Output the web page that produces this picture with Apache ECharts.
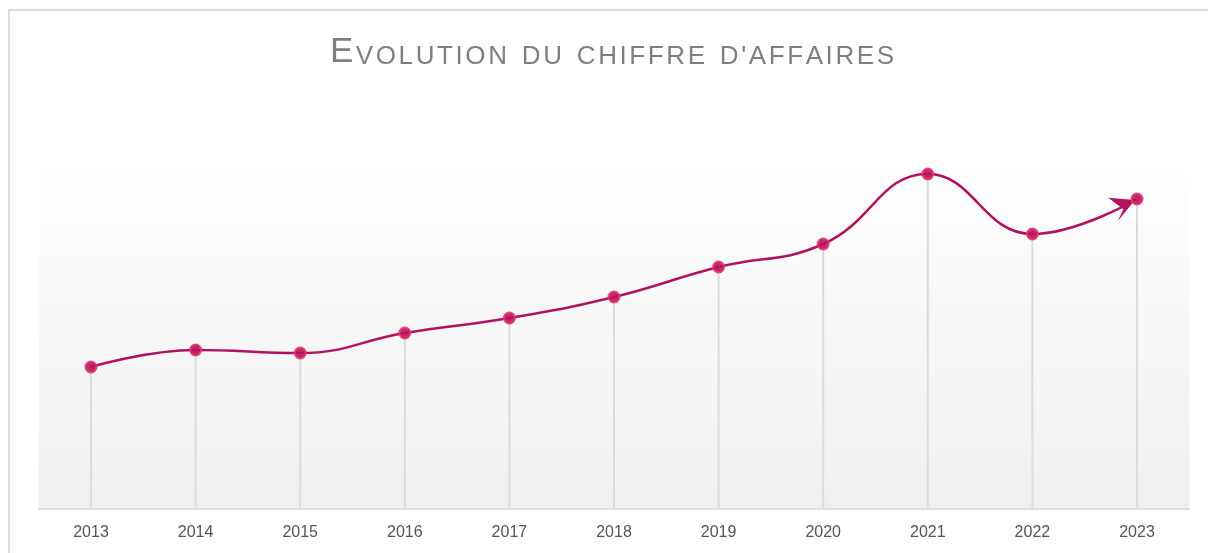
<!DOCTYPE html>
<html>
<head>
<meta charset="utf-8">
<script src="https://cdn.jsdelivr.net/npm/echarts@6/dist/echarts.min.js"></script>
<style>
  html, body { margin: 0; padding: 0; background: #fff; }
  #frame {
    position: absolute; left: 8px; top: 9px; width: 1220px; height: 600px;
    border-left: 2px solid #dcdcdc; border-top: 2px solid #dcdcdc;
  }
  #chart { position: absolute; left: 0; top: 0; width: 1208px; height: 553px; }
</style>
</head>
<body>
<div id="frame"></div>
<div id="chart"></div>
<script>
// years on the x axis
const years = ['2013', '2014', '2015', '2016', '2017', '2018', '2019', '2020', '2021', '2022', '2023'];
// turnover (arbitrary units)
const turnover = [142, 159, 156, 176, 191, 212, 242, 265, 335, 275, 310];
const yMax = 354;
const titleText = "Evolution du chiffre d'affaires";

const chart = echarts.init(document.getElementById('chart'));

const lineColor = '#b0125f';
// arrow head, tip at (0,0), pointing up-right
const arrowPath = 'path://M0,0 L-26.7,-2.3 L-11.7,9.3 L-17.3,21 Z';

// small caps title with a little letter spacing: one rich token per character
const upper = titleText.toUpperCase();
const titleRich = upper.split('').map((c, i) => {
  if (i === 0) return '{big|' + c + '}';
  if (c === ' ') return '{sp| }';
  return '{small|' + c + '}';
}).join('');

const baseStyle = { color: '#7f7f7f', fontWeight: 'normal', fontFamily: 'Liberation Sans', verticalAlign: 'bottom' };

const option = {
  animation: false,
  title: {
    text: titleRich,
    left: 325,
    top: 30,
    textStyle: {
      fontWeight: 'normal',
      rich: {
        big: Object.assign({}, baseStyle, { fontSize: 35, lineHeight: 35, padding: [0, 2.5, 0, 0] }),
        small: Object.assign({}, baseStyle, { fontSize: 26, lineHeight: 26, padding: [0, 2.6, 0, 0] }),
        sp: Object.assign({}, baseStyle, { fontSize: 26, lineHeight: 26, padding: [0, 5, 0, 0] })
      }
    }
  },
  grid: {
    left: 38.7,
    right: 18.7,
    top: 155,
    bottom: 44,
    show: true,
    borderWidth: 0,
    backgroundColor: {
      type: 'linear', x: 0, y: 0, x2: 0, y2: 1,
      colorStops: [
        { offset: 0, color: '#ffffff' },
        { offset: 1, color: '#efefef' }
      ]
    }
  },
  xAxis: {
    type: 'category',
    data: years,
    axisLine: { lineStyle: { color: '#dcdcdc', width: 2 } },
    axisTick: { show: false },
    axisLabel: { color: '#555', fontSize: 16, margin: 16, fontFamily: 'Liberation Sans' }
  },
  yAxis: {
    type: 'value',
    min: 0,
    max: yMax,
    show: false,
    splitLine: { show: false }
  },
  series: [
    {
      // vertical drop lines
      type: 'bar',
      data: turnover,
      barWidth: 2,
      itemStyle: { color: '#dcdcdc' },
      z: 1,
      silent: true
    },
    {
      // arrow head at the end of the curve
      type: 'scatter',
      data: [[years.length - 1, turnover[turnover.length - 1]]],
      symbol: arrowPath,
      symbolSize: [26.7, 23.3],
      symbolOffset: [-15.3, 10.3],
      itemStyle: { color: lineColor, opacity: 1 },
      z: 2,
      silent: true
    },
    {
      type: 'line',
      data: turnover,
      smooth: 0.45,
      symbol: 'circle',
      symbolSize: 11,
      lineStyle: { color: lineColor, width: 2.5 },
      itemStyle: { color: '#b8135f', borderColor: '#e5396a', borderWidth: 2, opacity: 0.9 },
      z: 3
    }
  ]
};

chart.setOption(option);
</script>
</body>
</html>
